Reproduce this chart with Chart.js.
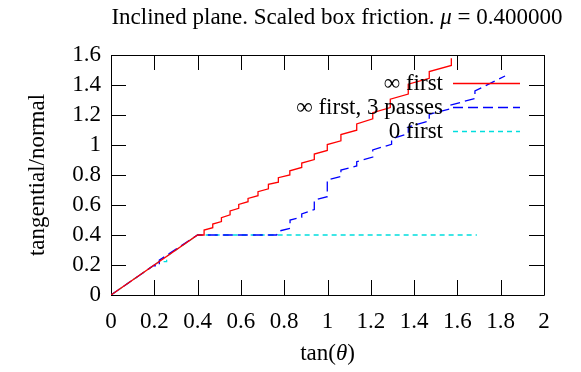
<!DOCTYPE html>
<html>
<head>
<meta charset="utf-8">
<script src="https://cdn.jsdelivr.net/npm/chart.js@4/dist/chart.umd.min.js"></script>
<style>
  html, body { margin: 0; padding: 0; background: #fff; }
  #wrap { width: 581px; height: 372px; }
</style>
</head>
<body>
<div id="wrap"><canvas id="c" width="581" height="372"></canvas></div>
<script>
// --- data ---
const seriesNames = ["\u221e first", "\u221e first, 3 passes", "0 first"];

const redX = [0, 0.4, 0.43, 0.43, 0.47, 0.47, 0.51, 0.51, 0.55, 0.55, 0.59, 0.59, 0.633, 0.633, 0.679, 0.679,
  0.727, 0.727, 0.773, 0.773, 0.826, 0.826, 0.881, 0.881, 0.939, 0.939, 0.999, 0.999, 1.062, 1.062,
  1.135, 1.135, 1.209, 1.209, 1.29, 1.29, 1.373, 1.373, 1.47, 1.47, 1.572, 1.572];
const redY = [0, 0.4, 0.4, 0.433, 0.449, 0.473, 0.49, 0.516, 0.535, 0.56, 0.578, 0.604, 0.622, 0.644, 0.662, 0.689,
  0.708, 0.738, 0.752, 0.782, 0.8, 0.828, 0.85, 0.88, 0.903, 0.94, 0.964, 1.003, 1.028, 1.07,
  1.099, 1.14, 1.175, 1.215, 1.25, 1.305, 1.34, 1.405, 1.445, 1.49, 1.53, 1.578];

const blueX = [0, 0.2, 0.2, 0.223, 0.223, 0.4, 0.765, 0.773, 0.827, 0.827, 0.881, 0.881, 0.939, 0.939, 0.999, 0.999,
  1.062, 1.062, 1.135, 1.135, 1.209, 1.209, 1.296, 1.296, 1.373, 1.373, 1.47, 1.47, 1.566, 1.566, 1.681, 1.681, 1.82];
const blueY = [0, 0.2, 0.195, 0.195, 0.232, 0.4, 0.4, 0.425, 0.445, 0.5, 0.518, 0.54, 0.57, 0.633, 0.655, 0.767,
  0.79, 0.833, 0.86, 0.889, 0.92, 0.967, 1.005, 1.042, 1.075, 1.12, 1.16, 1.205, 1.24, 1.265, 1.31, 1.36, 1.46];

const cyanX = [0, 0.222, 0.257, 0.257, 0.4, 1.69];
const cyanY = [0, 0.222, 0.222, 0.257, 0.4, 0.4];

const xTicks = [0, 0.2, 0.4, 0.6, 0.8, 1, 1.2, 1.4, 1.6, 1.8, 2];
const yTicks = [0, 0.2, 0.4, 0.6, 0.8, 1, 1.2, 1.4, 1.6];

const lineColors = ["#ff0000", "#0000ff", "#00dede"];
const lineDashes = [[], [10, 5], [5, 4]];
const FONT = "'Liberation Serif', 'DejaVu Serif', serif";
const FS = 23;

const pts = (xs, ys) => xs.map((x, i) => ({ x, y: ys[i] }));
const fmt = v => String(+v.toFixed(1));

// frame with inward ticks on all four sides, plus title/axis titles/legend
const decor = {
  id: "decor",
  beforeDatasetsDraw(chart) {
    const { ctx, chartArea: a, scales: { x, y } } = chart;
    ctx.save();
    ctx.strokeStyle = "#000";
    ctx.lineWidth = 1;
    ctx.beginPath();
    ctx.rect(Math.round(a.left) + 0.5, Math.round(a.top) + 0.5, Math.round(a.right - a.left), Math.round(a.bottom - a.top));
    xTicks.forEach(v => {
      const px = Math.round(x.getPixelForValue(v)) + 0.5;
      ctx.moveTo(px, a.bottom); ctx.lineTo(px, a.bottom - 15);
      ctx.moveTo(px, a.top); ctx.lineTo(px, a.top + 15);
    });
    yTicks.forEach(v => {
      const py = Math.round(y.getPixelForValue(v)) + 0.5;
      ctx.moveTo(a.left, py); ctx.lineTo(a.left + 15, py);
      ctx.moveTo(a.right, py); ctx.lineTo(a.right - 15, py);
    });
    ctx.stroke();
    ctx.restore();
  },
  afterDraw(chart) {
    const { ctx, chartArea: a } = chart;
    ctx.save();
    ctx.fillStyle = "#000";
    const up = FS + "px " + FONT, it = "italic " + FS + "px " + FONT;

    // title with italic mu
    const t1 = "Inclined plane. Scaled box friction. ", t2 = "\u03bc", t3 = " = 0.400000";
    ctx.font = up; const w1 = ctx.measureText(t1).width, w3 = ctx.measureText(t3).width;
    ctx.font = it; const w2 = ctx.measureText(t2).width;
    let tx = 337 - (w1 + w2 + w3) / 2;
    ctx.textBaseline = "alphabetic"; ctx.textAlign = "left";
    ctx.font = up; ctx.fillText(t1, tx, 24); tx += w1;
    ctx.font = it; ctx.fillText(t2, tx, 24); tx += w2;
    ctx.font = up; ctx.fillText(t3, tx, 24);

    // x title tan(theta)
    const cx = (a.left + a.right) / 2;
    ctx.font = up; const a1 = ctx.measureText("tan(").width, a3 = ctx.measureText(")").width;
    ctx.font = it; const a2 = ctx.measureText("\u03b8").width;
    let xx = cx - (a1 + a2 + a3) / 2;
    ctx.font = up; ctx.fillText("tan(", xx, 360); xx += a1;
    ctx.font = it; ctx.fillText("\u03b8", xx, 360); xx += a2;
    ctx.font = up; ctx.fillText(")", xx, 360);

    // y title
    ctx.save();
    ctx.translate(38, (a.top + a.bottom) / 2);
    ctx.rotate(-Math.PI / 2);
    ctx.textAlign = "center"; ctx.textBaseline = "middle";
    ctx.font = up;
    ctx.fillText("tangential/normal", 0, 0);
    ctx.restore();

    // legend: right-aligned text, sample on the right
    const rows = [83, 107, 131];
    seriesNames.forEach((name, i) => {
      ctx.font = up; ctx.textAlign = "right"; ctx.textBaseline = "middle";
      ctx.fillStyle = "#000";
      ctx.fillText(name, 443, rows[i] + 1);
      ctx.beginPath();
      ctx.setLineDash(lineDashes[i]);
      ctx.lineWidth = 1.3;
      ctx.strokeStyle = chart.data.datasets[i].borderColor;
      ctx.moveTo(453, rows[i] + 0.5); ctx.lineTo(520, rows[i] + 0.5);
      ctx.stroke();
      ctx.setLineDash([]);
    });
    ctx.restore();
  }
};

const mk = (xs, ys, i) => ({
  label: seriesNames[i],
  data: pts(xs, ys),
  showLine: true,
  borderColor: lineColors[i],
  borderWidth: 1.3,
  borderDash: lineDashes[i],
  pointRadius: 0,
  fill: false,
  tension: 0
});

new Chart(document.getElementById("c").getContext("2d"), {
  type: "scatter",
  data: { datasets: [mk(redX, redY, 0), mk(blueX, blueY, 1), mk(cyanX, cyanY, 2)] },
  options: {
    responsive: false,
    animation: false,
    layout: { padding: { top: 55, right: 37, left: 0, bottom: 0 } },
    plugins: { legend: { display: false }, title: { display: false }, tooltip: { enabled: false } },
    scales: {
      x: {
        type: "linear", min: 0, max: 2,
        afterBuildTicks: s => { s.ticks = xTicks.map(v => ({ value: v })); },
        afterFit: s => { s.height = 372 - 295; },
        grid: { display: false, drawTicks: false },
        border: { display: false },
        ticks: { callback: fmt, padding: 13, color: "#000", maxRotation: 0, autoSkip: false, font: { family: FONT, size: FS } }
      },
      y: {
        type: "linear", min: 0, max: 1.6,
        afterBuildTicks: s => { s.ticks = yTicks.map(v => ({ value: v })); },
        afterFit: s => { s.width = 111; },
        grid: { display: false, drawTicks: false },
        border: { display: false },
        ticks: { callback: fmt, padding: 10, color: "#000", autoSkip: false, font: { family: FONT, size: FS } }
      }
    }
  },
  plugins: [decor]
});
</script>
</body>
</html>
